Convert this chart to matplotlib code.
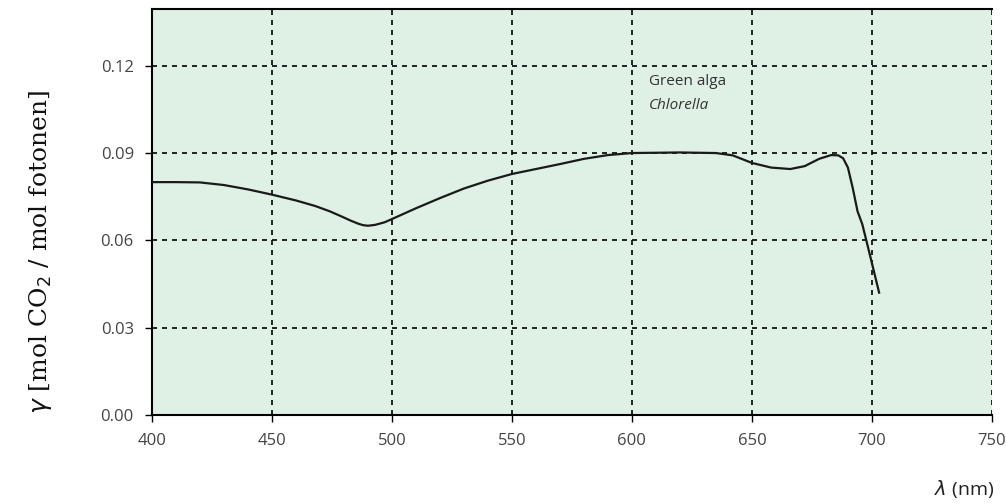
import matplotlib
matplotlib.use('Agg')
import matplotlib.pyplot as plt

# quantum yield
wavelength = [400, 410, 420, 430, 440, 450, 460, 468, 474, 479, 483, 486,
              488, 490, 493, 497, 500, 510, 520, 530, 540, 550, 560, 570,
              580, 590, 600, 620, 635, 642, 650, 658, 666, 672, 678, 683,
              686, 688, 690, 692, 694, 696, 699, 703]
yield_co2 = [0.0800, 0.0800, 0.0799, 0.0790, 0.0775, 0.0757, 0.0737, 0.0718,
             0.0700, 0.0682, 0.0667, 0.0657, 0.0652, 0.0650, 0.0653, 0.0662,
             0.0673, 0.0710, 0.0745, 0.0778, 0.0805, 0.0828, 0.0845, 0.0862,
             0.0880, 0.0893, 0.0900, 0.0902, 0.0900, 0.0892, 0.0866, 0.0850,
             0.0845, 0.0855, 0.0880, 0.0893, 0.0892, 0.0882, 0.0850, 0.0780,
             0.0700, 0.0655, 0.0555, 0.0420]

x_ticks = [400, 450, 500, 550, 600, 650, 700, 750]
y_ticks = [0.00, 0.03, 0.06, 0.09, 0.12]

fig = plt.figure(figsize=(10.06, 5.04), dpi=100)
ax = fig.add_axes([0.151, 0.177, 0.835, 0.805])
ax.set_facecolor('#dff0e4')

ax.plot(wavelength, yield_co2, color='#1a1a1a', linewidth=1.6, zorder=3)

ax.set_xlim(400, 750)
ax.set_ylim(0, 0.1395)
ax.set_xticks(x_ticks)
ax.set_yticks(y_ticks)
ax.set_yticklabels([f'{v:.2f}' for v in y_ticks])
ax.grid(True, color='black', linestyle=(0, (3, 3)), linewidth=1.2)

for s in ['left', 'top', 'bottom']:
    ax.spines[s].set_linewidth(1.5)
    ax.spines[s].set_color('black')
ax.spines['right'].set_visible(False)

ax.tick_params(axis='both', length=5, width=1, color='black',
               labelsize=12, labelcolor='#444444', pad=8)
for lbl in ax.get_xticklabels() + ax.get_yticklabels():
    lbl.set_fontfamily('Open Sans')

ax.text(607, 0.1145, 'Green alga', fontsize=11, color='#333333',
        family='Open Sans', va='center')
ax.text(607, 0.1063, 'Chlorella', fontsize=11, color='#333333',
        family='Open Sans', style='italic', va='center')

fig.text(0.040, 0.50, r'$\gamma$ [mol CO$_2$ / mol fotonen]',
         rotation=90, fontsize=18, family='DejaVu Serif', color='#111111',
         ha='center', va='center')
fig.text(0.988, 0.03, r'$\lambda$ (nm)', fontsize=14, family='Open Sans',
         color='#222222', ha='right', va='center')

fig.savefig('out.png', dpi=100)
